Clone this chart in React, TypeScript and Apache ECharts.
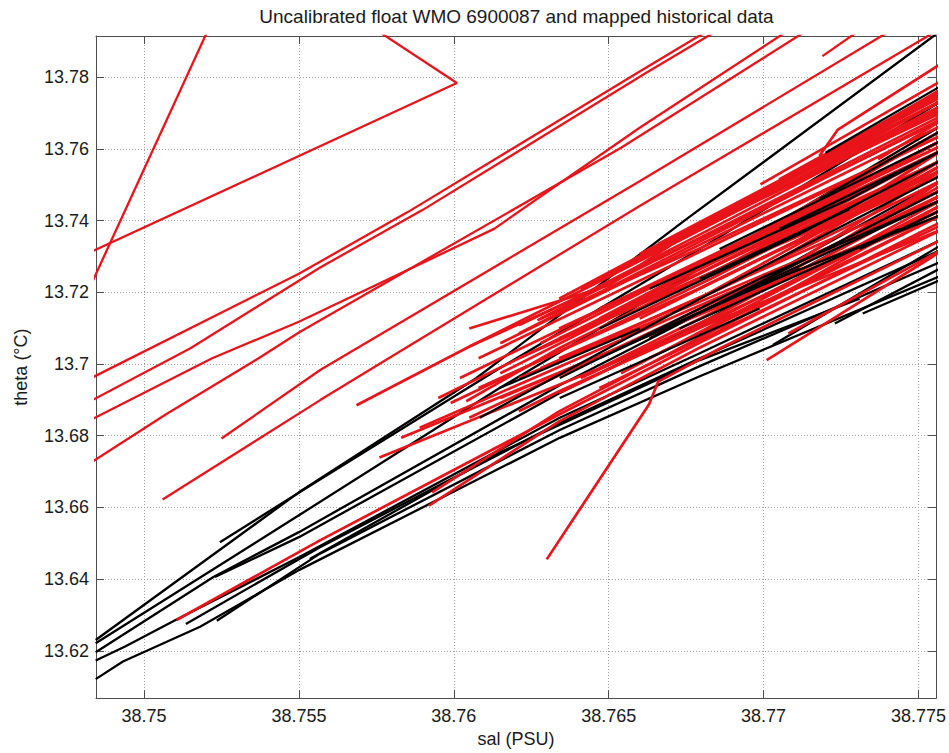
import React, { useEffect, useRef } from "react";
import * as echarts from "echarts";

// ---- axis limits and tick values ----
const SAL_MIN = 38.74845;
const SAL_MAX = 38.77557;
const THETA_MIN = 13.6068;
const THETA_MAX = 13.7915;
const SAL_STEP = 0.005;
const THETA_STEP = 0.02;

const TITLE = "Uncalibrated float WMO 6900087 and mapped historical data";
const X_NAME = "sal (PSU)";
const Y_NAME = "theta (\u00B0C)";

// ---- mapped historical profiles (red), [sal, theta] ----
const histUpper: number[][][] = [
  [[38.748, 13.7167], [38.7522, 13.7957]],
  [[38.748, 13.7301], [38.7601, 13.7784], [38.7563, 13.8]],
  [[38.748, 13.6948], [38.755, 13.7252], [38.7585, 13.7423], [38.766, 13.7816], [38.7682, 13.793]],
  [[38.748, 13.6884], [38.7515, 13.7044], [38.7557, 13.727], [38.759, 13.743], [38.7662, 13.7812], [38.7685, 13.793]],
  [[38.748, 13.6832], [38.7522, 13.7016], [38.755, 13.7118], [38.7613, 13.7377], [38.766, 13.7659], [38.7707, 13.7925]],
  [[38.748, 13.6709], [38.7507, 13.6859], [38.7537, 13.7016], [38.755, 13.7088], [38.7654, 13.7603], [38.7713, 13.7925]],
  [[38.7525, 13.6792], [38.7557, 13.6984], [38.766, 13.751], [38.774, 13.7925]],
  [[38.7506, 13.6622], [38.7557, 13.69], [38.7579, 13.7016], [38.766, 13.7441], [38.7756, 13.793]],
  [[38.7719, 13.7859], [38.773, 13.7925]],
];

const histBundleA: number[][][] = [
  [[38.7605, 13.7099], [38.765, 13.7219], [38.7683, 13.7404], [38.7758, 13.7748]],
  [[38.7605, 13.7049], [38.7637, 13.7173], [38.7683, 13.7377], [38.7758, 13.7715]],
  [[38.75686, 13.6885], [38.7604, 13.7044], [38.7647, 13.723], [38.7699, 13.746], [38.7758, 13.7704]],
  [[38.7604, 13.6896], [38.7634, 13.7044], [38.7679, 13.7238], [38.7758, 13.7571]],
  [[38.7621, 13.7108], [38.7679, 13.7349], [38.7758, 13.7682]],
  [[38.7627, 13.7122], [38.7679, 13.7321], [38.7758, 13.764]],
  [[38.75105, 13.6286], [38.75568, 13.6508], [38.7634, 13.6859], [38.7679, 13.7058], [38.7758, 13.7399]],
  [[38.763, 13.6455], [38.7663, 13.6887], [38.7666, 13.6951], [38.7686, 13.7044], [38.7758, 13.7349]],
  [[38.7592, 13.6605], [38.7634, 13.684], [38.7679, 13.7044], [38.7758, 13.7377]],
  [[38.7593, 13.6642], [38.7634, 13.6868], [38.7679, 13.7072], [38.7758, 13.7418]],
  [[38.7621, 13.6868], [38.7634, 13.6924], [38.7679, 13.7099], [38.7758, 13.7446]],
  [[38.7599, 13.6891], [38.7683, 13.7238], [38.7758, 13.7571]],
  [[38.7608, 13.6933], [38.7679, 13.721], [38.7758, 13.7543]],
  [[38.7615, 13.6974], [38.7679, 13.7252], [38.7758, 13.7598]],
  [[38.7628, 13.7058], [38.7679, 13.728], [38.7758, 13.7626]],
  [[38.7634, 13.7016], [38.7686, 13.721], [38.7758, 13.7515]],
  [[38.7641, 13.6961], [38.7686, 13.7141], [38.7758, 13.7474]],
  [[38.7647, 13.6988], [38.7699, 13.721], [38.7758, 13.7501]],
  [[38.7654, 13.7072], [38.7705, 13.7293], [38.7758, 13.7557]],
  [[38.766, 13.7127], [38.7712, 13.7349], [38.7758, 13.7598]],
  [[38.7647, 13.7155], [38.7705, 13.7377], [38.7758, 13.7626]],
  [[38.7663, 13.7182], [38.7718, 13.7418], [38.7758, 13.7598]],
  [[38.7718, 13.758], [38.7724, 13.7654], [38.7758, 13.7842]],
  [[38.7699, 13.7501], [38.7758, 13.7793]],
  [[38.7705, 13.7515], [38.7758, 13.7765]],
  [[38.7701, 13.7011], [38.7755, 13.7302], [38.7758, 13.7321]],
  [[38.7708, 13.7085], [38.7758, 13.7321]],
];

const histBundleB: number[][][] = [
  [[38.7666, 13.7293], [38.7758, 13.7682]],
  [[38.7673, 13.7238], [38.7758, 13.7626]],
  [[38.7679, 13.7182], [38.7758, 13.7557]],
  [[38.7686, 13.7266], [38.7758, 13.7598]],
  [[38.7692, 13.7321], [38.7758, 13.7654]],
  [[38.7676, 13.7127], [38.7758, 13.7488]],
  [[38.7686, 13.7099], [38.7758, 13.7446]],
  [[38.7699, 13.7182], [38.7758, 13.746]],
  [[38.7705, 13.7238], [38.7758, 13.7515]],
  [[38.7712, 13.7293], [38.7758, 13.7543]],
  [[38.7718, 13.7377], [38.7758, 13.7598]],
  [[38.7725, 13.7321], [38.7758, 13.7515]],
  [[38.7731, 13.7432], [38.7758, 13.7571]],
  [[38.7692, 13.7432], [38.7758, 13.7709]],
  [[38.7702, 13.7377], [38.7758, 13.7626]],
  [[38.7654, 13.7182], [38.7758, 13.7612]],
  [[38.7641, 13.7099], [38.7758, 13.7571]],
  [[38.7634, 13.7072], [38.7758, 13.7529]],
  [[38.7628, 13.6988], [38.7758, 13.7488]],
  [[38.7621, 13.6961], [38.7758, 13.746]],
  [[38.7615, 13.6905], [38.7758, 13.7432]],
];

const histBundleC: number[][][] = [
  [[38.7634, 13.7182], [38.7758, 13.7751]],
  [[38.7641, 13.721], [38.7758, 13.7737]],
  [[38.7647, 13.7238], [38.7758, 13.7723]],
  [[38.7654, 13.7271], [38.7758, 13.7709]],
  [[38.766, 13.7307], [38.7758, 13.7737]],
  [[38.7666, 13.7335], [38.7758, 13.7751]],
  [[38.7673, 13.7354], [38.7758, 13.7765]],
  [[38.7679, 13.7382], [38.7758, 13.7737]],
  [[38.7686, 13.7418], [38.7758, 13.7759]],
  [[38.7696, 13.746], [38.7758, 13.777]],
  [[38.7705, 13.7488], [38.7758, 13.7723]],
  [[38.7712, 13.7521], [38.7758, 13.7737]],
  [[38.7628, 13.7127], [38.7758, 13.7695]],
  [[38.7615, 13.7058], [38.7758, 13.7668]],
  [[38.7621, 13.7085], [38.7758, 13.7687]],
  [[38.7608, 13.7016], [38.7758, 13.764]],
  [[38.7602, 13.6961], [38.7758, 13.7612]],
  [[38.7595, 13.6905], [38.7758, 13.7598]],
  [[38.7583, 13.6794], [38.7758, 13.7418]],
  [[38.7589, 13.6822], [38.7758, 13.746]],
  [[38.7576, 13.6739], [38.7758, 13.7377]],
  [[38.7605, 13.685], [38.7758, 13.7474]],
  [[38.7634, 13.6919], [38.7758, 13.7432]],
  [[38.7647, 13.6933], [38.7758, 13.739]],
  [[38.7663, 13.7016], [38.7758, 13.7418]],
  [[38.7654, 13.6974], [38.7758, 13.7446]],
  [[38.7621, 13.7016], [38.7758, 13.7543]],
  [[38.7634, 13.7099], [38.7758, 13.7598]],
  [[38.7647, 13.7127], [38.7758, 13.7626]],
  [[38.766, 13.7182], [38.7758, 13.7654]],
  [[38.7673, 13.721], [38.7758, 13.7571]],
  [[38.7686, 13.7238], [38.7758, 13.7543]],
  [[38.7699, 13.7293], [38.7758, 13.7529]],
  [[38.7712, 13.7349], [38.7758, 13.7571]],
  [[38.7725, 13.7404], [38.7758, 13.7557]],
  [[38.7737, 13.746], [38.7758, 13.7543]],
  [[38.7737, 13.7571], [38.7758, 13.7682]],
  [[38.7731, 13.7598], [38.7758, 13.7723]],
  [[38.7744, 13.7654], [38.7758, 13.7709]],
];

// ---- uncalibrated float profiles (black), [sal, theta] ----
const floatLower: number[][][] = [
  [[38.74844, 13.623], [38.755, 13.6642], [38.76073, 13.6961], [38.76751, 13.7404], [38.77574, 13.7931]],
  [[38.75245, 13.6503], [38.75568, 13.6678], [38.76148, 13.6988], [38.76794, 13.7321], [38.7758, 13.7737]],
  [[38.74844, 13.6221], [38.755, 13.6578], [38.76148, 13.6933], [38.76794, 13.7266], [38.7758, 13.7668]],
  [[38.74844, 13.6196], [38.75224, 13.6406], [38.755, 13.6531], [38.76342, 13.6941], [38.76794, 13.7141], [38.7758, 13.7515]],
  [[38.75229, 13.6406], [38.755, 13.6517], [38.76342, 13.6919], [38.76794, 13.7113], [38.7758, 13.7474]],
  [[38.74844, 13.6173], [38.74939, 13.6212], [38.75105, 13.6287], [38.755, 13.6461], [38.76342, 13.685], [38.76794, 13.703], [38.7758, 13.7349]],
  [[38.74844, 13.6121], [38.74932, 13.617], [38.75181, 13.6267], [38.755, 13.6425], [38.76342, 13.6794], [38.76794, 13.6966], [38.7758, 13.7249]],
  [[38.75135, 13.6275], [38.75568, 13.6489], [38.76342, 13.6836], [38.76794, 13.7016], [38.7758, 13.7321]],
  [[38.75235, 13.6284], [38.75568, 13.6471], [38.76342, 13.6816], [38.76794, 13.6994], [38.7758, 13.7288]],
  [[38.75535, 13.6456], [38.76148, 13.6753], [38.76794, 13.7011], [38.7731, 13.7182]],
  [[38.7703, 13.7053], [38.7758, 13.7335]],
  [[38.7723, 13.7113], [38.7758, 13.7271]],
  [[38.7732, 13.7141], [38.7758, 13.7238]],
];

const floatBundle: number[][][] = [
  [[38.76084, 13.685], [38.76794, 13.7182], [38.7758, 13.7529]],
  [[38.76342, 13.6961], [38.76987, 13.7238], [38.7758, 13.746]],
  [[38.76471, 13.7099], [38.77116, 13.7363], [38.7758, 13.7571]],
  [[38.76632, 13.721], [38.77277, 13.746], [38.7758, 13.7598]],
  [[38.772, 13.7589], [38.7758, 13.7779]],
  [[38.76471, 13.7016], [38.7758, 13.746]],
  [[38.76632, 13.7072], [38.7758, 13.7488]],
  [[38.76535, 13.7044], [38.77116, 13.7266]],
  [[38.76955, 13.721], [38.7758, 13.7418]],
  [[38.76729, 13.7099], [38.77439, 13.7377]],
  [[38.76342, 13.6905], [38.76987, 13.7155]],
  [[38.76858, 13.7321], [38.7758, 13.7626]],
  [[38.77052, 13.7377], [38.7758, 13.7598]],
  [[38.77181, 13.746], [38.7758, 13.7654]],
  [[38.76794, 13.7238], [38.77277, 13.7432]],
  [[38.76148, 13.6933], [38.766, 13.7099]],
  [[38.7731, 13.7321], [38.7758, 13.7432]],
];

const SAL_LABELS = [38.75, 38.755, 38.76, 38.765, 38.77, 38.775];
const THETA_LABELS = [13.62, 13.64, 13.66, 13.68, 13.7, 13.72, 13.74, 13.76, 13.78];

const RED = "#e8141a";
const BLACK = "#000000";
const FONT = "Liberation Sans, Arial, sans-serif";
const AXIS_COLOR = "#4d4d4d";
const TEXT_COLOR = "#1a1a1a";

const GRID_LEFT = 96;
const GRID_RIGHT = 12;
const CHART_W = 949;

function nearestLabel(v: number, labels: number[], step: number): string {
  for (const l of labels) {
    if (Math.abs(v - l) < step * 1e-3) return String(l);
  }
  return "";
}

function makeSeries(lines: number[][][], color: string, z: number, width: number) {
  return lines.map((pts) => ({
    type: "line",
    data: pts,
    xAxisIndex: 0,
    yAxisIndex: 0,
    showSymbol: false,
    symbol: "none",
    silent: true,
    clip: true,
    z,
    lineStyle: { color, width },
    itemStyle: { color },
    emphasis: { disabled: true },
  }));
}

export default function App() {
  const ref = useRef<HTMLDivElement>(null);

  useEffect(() => {
    if (!ref.current) return;
    const chart = echarts.init(ref.current, null, { renderer: "svg" });

    const tickStyle = { inside: true, length: 8, lineStyle: { color: AXIS_COLOR, width: 1 } };
    const lineStyle = { show: true, onZero: false, lineStyle: { color: AXIS_COLOR, width: 1 } };
    const gridLine = { show: true, lineStyle: { color: "#a0a0a0", width: 1, type: [1, 2] } };

    chart.setOption({
      animation: false,
      backgroundColor: "#ffffff",
      graphic: [
        {
          type: "text",
          x: GRID_LEFT + (CHART_W - GRID_LEFT - GRID_RIGHT) / 2,
          y: 7,
          style: {
            text: TITLE,
            textAlign: "center",
            textVerticalAlign: "top",
            fontFamily: FONT,
            fontSize: 19,
            fill: TEXT_COLOR,
          },
        },
      ],
      grid: { left: GRID_LEFT, right: GRID_RIGHT, top: 36, bottom: 51, containLabel: false },
      xAxis: [
        {
          type: "value",
          position: "bottom",
          min: SAL_MIN,
          max: SAL_MAX,
          splitNumber: 5,
          axisLine: lineStyle,
          axisTick: tickStyle,
          splitLine: gridLine,
          axisLabel: {
            fontFamily: FONT,
            fontSize: 18,
            color: TEXT_COLOR,
            margin: 9,
            formatter: (v: number) => nearestLabel(v, SAL_LABELS, SAL_STEP),
          },
          name: X_NAME,
          nameLocation: "middle",
          nameGap: 29,
          nameTextStyle: { fontFamily: FONT, fontSize: 18, color: TEXT_COLOR },
        },
        {
          type: "value",
          position: "top",
          min: SAL_MIN,
          max: SAL_MAX,
          splitNumber: 5,
          axisLine: lineStyle,
          axisTick: tickStyle,
          splitLine: { show: false },
          axisLabel: { show: false },
        },
      ],
      yAxis: [
        {
          type: "value",
          position: "left",
          min: THETA_MIN,
          max: THETA_MAX,
          splitNumber: 9,
          axisLine: lineStyle,
          axisTick: tickStyle,
          splitLine: gridLine,
          axisLabel: {
            fontFamily: FONT,
            fontSize: 18,
            color: TEXT_COLOR,
            margin: 7,
            formatter: (v: number) => nearestLabel(v, THETA_LABELS, THETA_STEP),
          },
          name: Y_NAME,
          nameLocation: "middle",
          nameGap: 66,
          nameTextStyle: { fontFamily: FONT, fontSize: 18, color: TEXT_COLOR },
        },
        {
          type: "value",
          position: "right",
          min: THETA_MIN,
          max: THETA_MAX,
          splitNumber: 9,
          axisLine: lineStyle,
          axisTick: tickStyle,
          splitLine: { show: false },
          axisLabel: { show: false },
        },
      ],
      series: [
        ...makeSeries(floatLower, BLACK, 2, 2.3),
        ...makeSeries(histUpper, RED, 3, 2.3),
        ...makeSeries(histBundleA, RED, 3, 2.7),
        ...makeSeries(histBundleB, RED, 3, 2.7),
        ...makeSeries(histBundleC, RED, 3, 2.7),
        ...makeSeries(floatBundle, BLACK, 4, 2.3),
      ],
    });

    return () => chart.dispose();
  }, []);

  return (
    <div
      ref={ref}
      style={{ position: "absolute", left: 0, top: 0, width: 949, height: 753, background: "#fff" }}
    />
  );
}
